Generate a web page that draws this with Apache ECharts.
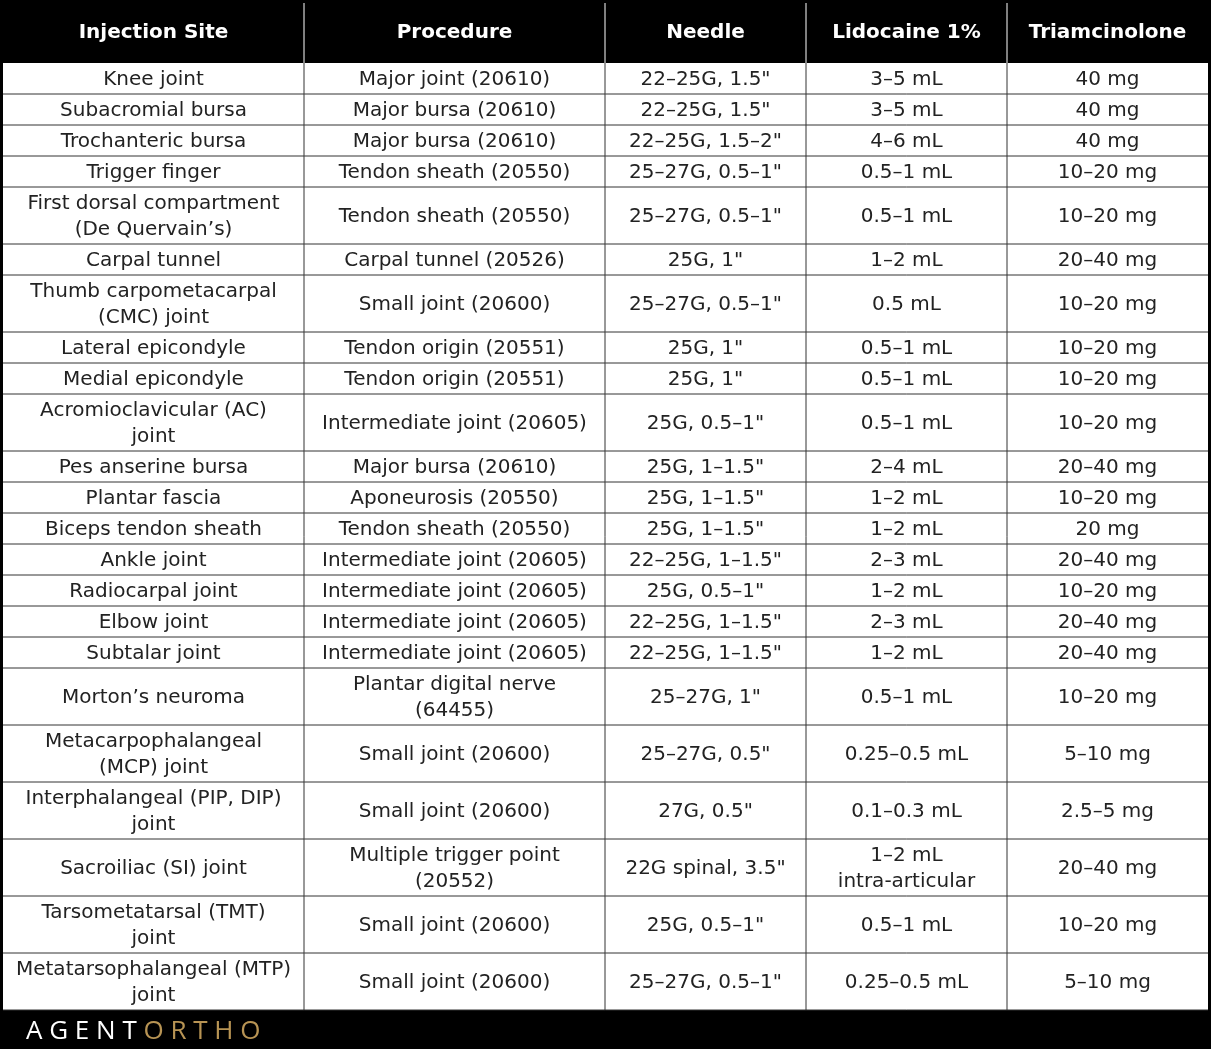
<!DOCTYPE html>
<html>
<head>
<meta charset="utf-8">
<script src="https://cdn.jsdelivr.net/npm/echarts@6/dist/echarts.min.js"></script>
<style>
  html, body { margin: 0; padding: 0; background: #fff; }
  #chart { width: 1211px; height: 1049px; }
</style>
</head>
<body>
<div id="chart"></div>
<script>
const headers = ['Injection Site', 'Procedure', 'Needle', 'Lidocaine 1%', 'Triamcinolone'];

const sites = ['Knee joint', 'Subacromial bursa', 'Trochanteric bursa', 'Trigger finger',
  'First dorsal compartment\n(De Quervain’s)', 'Carpal tunnel', 'Thumb carpometacarpal\n(CMC) joint',
  'Lateral epicondyle', 'Medial epicondyle', 'Acromioclavicular (AC)\njoint', 'Pes anserine bursa',
  'Plantar fascia', 'Biceps tendon sheath', 'Ankle joint', 'Radiocarpal joint', 'Elbow joint',
  'Subtalar joint', 'Morton’s neuroma', 'Metacarpophalangeal\n(MCP) joint',
  'Interphalangeal (PIP, DIP)\njoint', 'Sacroiliac (SI) joint', 'Tarsometatarsal (TMT)\njoint',
  'Metatarsophalangeal (MTP)\njoint'];

const procedures = ['Major joint (20610)', 'Major bursa (20610)', 'Major bursa (20610)',
  'Tendon sheath (20550)', 'Tendon sheath (20550)', 'Carpal tunnel (20526)', 'Small joint (20600)',
  'Tendon origin (20551)', 'Tendon origin (20551)', 'Intermediate joint (20605)', 'Major bursa (20610)',
  'Aponeurosis (20550)', 'Tendon sheath (20550)', 'Intermediate joint (20605)',
  'Intermediate joint (20605)', 'Intermediate joint (20605)', 'Intermediate joint (20605)',
  'Plantar digital nerve\n(64455)', 'Small joint (20600)', 'Small joint (20600)',
  'Multiple trigger point\n(20552)', 'Small joint (20600)', 'Small joint (20600)'];

const needles = ['22–25G, 1.5"', '22–25G, 1.5"', '22–25G, 1.5–2"', '25–27G, 0.5–1"', '25–27G, 0.5–1"',
  '25G, 1"', '25–27G, 0.5–1"', '25G, 1"', '25G, 1"', '25G, 0.5–1"', '25G, 1–1.5"', '25G, 1–1.5"',
  '25G, 1–1.5"', '22–25G, 1–1.5"', '25G, 0.5–1"', '22–25G, 1–1.5"', '22–25G, 1–1.5"', '25–27G, 1"',
  '25–27G, 0.5"', '27G, 0.5"', '22G spinal, 3.5"', '25G, 0.5–1"', '25–27G, 0.5–1"'];

const lidocaine = ['3–5 mL', '3–5 mL', '4–6 mL', '0.5–1 mL', '0.5–1 mL', '1–2 mL', '0.5 mL',
  '0.5–1 mL', '0.5–1 mL', '0.5–1 mL', '2–4 mL', '1–2 mL', '1–2 mL', '2–3 mL', '1–2 mL', '2–3 mL',
  '1–2 mL', '0.5–1 mL', '0.25–0.5 mL', '0.1–0.3 mL', '1–2 mL\nintra-articular', '0.5–1 mL', '0.25–0.5 mL'];

const triamcinolone = ['40 mg', '40 mg', '40 mg', '10–20 mg', '10–20 mg', '20–40 mg', '10–20 mg',
  '10–20 mg', '10–20 mg', '10–20 mg', '20–40 mg', '10–20 mg', '20 mg', '20–40 mg', '10–20 mg',
  '20–40 mg', '20–40 mg', '10–20 mg', '5–10 mg', '2.5–5 mg', '20–40 mg', '10–20 mg', '5–10 mg'];

const chart = echarts.init(document.getElementById('chart'));

const colX = [3, 304, 605, 806, 1007, 1208];
const tableTop = 3, headH = 60, oneH = 31, twoH = 57;
const font = '"DejaVu Sans", Verdana, sans-serif';
const cols = [sites, procedures, needles, lidocaine, triamcinolone];

const g = [];
g.push({ type: 'rect', shape: { x: 0, y: 0, width: 1211, height: 1049 }, style: { fill: '#000' } });
g.push({ type: 'rect', shape: { x: 3, y: tableTop + headH, width: 1205, height: 947 }, style: { fill: '#fff' } });

headers.forEach((h, c) => {
  g.push({ type: 'text', x: (colX[c] + colX[c + 1]) / 2, y: tableTop + headH / 2,
    style: { text: h, fill: '#fff', font: 'bold 20px ' + font, align: 'center', verticalAlign: 'middle' } });
});
for (let c = 1; c < 5; c++) {
  g.push({ type: 'line', shape: { x1: colX[c], y1: tableTop, x2: colX[c], y2: tableTop + headH }, style: { stroke: '#fff', lineWidth: 1 } });
}

let y = tableTop + headH;
sites.forEach((s, r) => {
  const lines = Math.max(...cols.map(col => col[r].split('\n').length));
  const h = lines > 1 ? twoH : oneH;
  cols.forEach((col, c) => {
    g.push({ type: 'text', x: (colX[c] + colX[c + 1]) / 2, y: y + h / 2 + 1,
      style: { text: col[r], fill: '#222', font: '20px ' + font, align: 'center', verticalAlign: 'middle', lineHeight: 26 } });
  });
  y += h;
  g.push({ type: 'line', shape: { x1: 3, y1: y, x2: 1208, y2: y }, style: { stroke: '#333', lineWidth: 1 } });
});
for (let c = 1; c < 5; c++) {
  g.push({ type: 'line', shape: { x1: colX[c], y1: tableTop + headH, x2: colX[c], y2: y }, style: { stroke: '#333', lineWidth: 1 } });
}

g.push({ type: 'text', x: 26, y: 1032,
  style: { rich: {
    a: { fill: '#fff', font: '500 26px "Open Sans", ' + font },
    b: { fill: '#b89454', font: '500 26px "Open Sans", ' + font }
  }, text: '{a|A G E N T}{b| O R T H O}', verticalAlign: 'middle' } });

chart.setOption({ animation: false, graphic: g });
</script>
</body>
</html>
